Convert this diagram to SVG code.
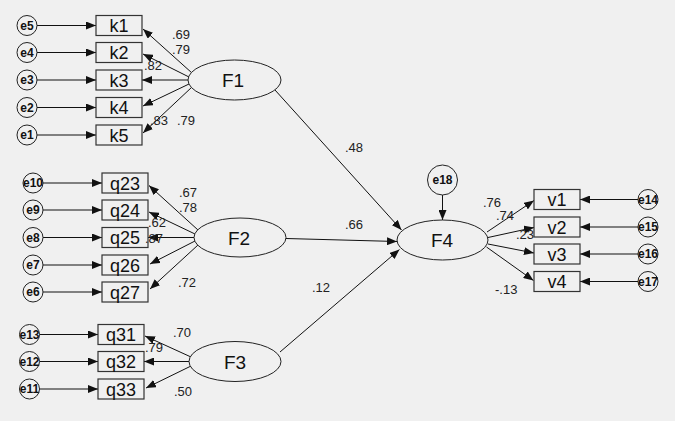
<svg xmlns="http://www.w3.org/2000/svg" width="675" height="421" viewBox="0 0 675 421">
<style>
.bg{fill:#f0f0f0}
.box{fill:#f0f0f0;stroke:#333;stroke-width:1.2}
.ell{fill:#f0f0f0;stroke:#222;stroke-width:1}
.err{fill:#f0f0f0;stroke:#222;stroke-width:1}
.ln{stroke:#111;stroke-width:1;fill:none;marker-end:url(#ah)}
.nt{font-family:"Liberation Sans",Arial,sans-serif;font-size:18px;fill:#111;text-anchor:middle}
.ft{font-family:"Liberation Sans",Arial,sans-serif;font-size:19px;fill:#111;text-anchor:middle}
.et{font-family:"Liberation Sans",Arial,sans-serif;font-size:12px;font-weight:bold;fill:#111;text-anchor:middle}
.lb{font-family:"Liberation Sans",Arial,sans-serif;font-size:13px;fill:#222}
</style>
<defs>
<marker id="ah" markerUnits="userSpaceOnUse" markerWidth="10" markerHeight="8" refX="10" refY="4" orient="auto">
<path d="M0,0 L10,4 L0,8 z" fill="#111"/>
</marker>
</defs>
<rect class="bg" x="0" y="0" width="675" height="421"/>

<g id="connectors">
<!-- error arrows F1 -->
<line class="ln" x1="37" y1="25.5" x2="96" y2="25.5"/>
<line class="ln" x1="37" y1="52.5" x2="96" y2="52.5"/>
<line class="ln" x1="37" y1="80" x2="96" y2="80"/>
<line class="ln" x1="37" y1="107.5" x2="96" y2="107.5"/>
<line class="ln" x1="37" y1="135" x2="96" y2="135"/>
<!-- F1 loadings -->
<line class="ln" x1="192" y1="73" x2="143" y2="29"/>
<line class="ln" x1="189" y1="77" x2="143" y2="54"/>
<line class="ln" x1="188" y1="80" x2="142" y2="80"/>
<line class="ln" x1="189" y1="84" x2="143" y2="106"/>
<line class="ln" x1="192" y1="87" x2="143" y2="133"/>
<!-- error arrows F2 -->
<line class="ln" x1="43" y1="183" x2="102" y2="183"/>
<line class="ln" x1="43" y1="210" x2="102" y2="210"/>
<line class="ln" x1="43" y1="237.5" x2="102" y2="237.5"/>
<line class="ln" x1="43" y1="265" x2="102" y2="265"/>
<line class="ln" x1="43" y1="292" x2="102" y2="292"/>
<!-- F2 loadings -->
<line class="ln" x1="198" y1="230" x2="149" y2="185.5"/>
<line class="ln" x1="195" y1="234" x2="149" y2="212"/>
<line class="ln" x1="194" y1="237.5" x2="148" y2="237.5"/>
<line class="ln" x1="195" y1="241" x2="150" y2="264"/>
<line class="ln" x1="198" y1="245" x2="150" y2="289"/>
<!-- error arrows F3 -->
<line class="ln" x1="39.5" y1="334.5" x2="98" y2="334.5"/>
<line class="ln" x1="39.5" y1="361.5" x2="98" y2="361.5"/>
<line class="ln" x1="39.5" y1="389" x2="98" y2="389"/>
<!-- F3 loadings -->
<line class="ln" x1="191" y1="357" x2="145" y2="336"/>
<line class="ln" x1="189" y1="361.5" x2="144" y2="361.5"/>
<line class="ln" x1="191" y1="366" x2="146" y2="388"/>
<!-- structural -->
<line class="ln" x1="275" y1="90" x2="401.5" y2="230"/>
<line class="ln" x1="286" y1="238.5" x2="397" y2="241.5"/>
<line class="ln" x1="280" y1="352" x2="399.5" y2="249.5"/>
<!-- e18 -->
<line class="ln" x1="442.5" y1="195" x2="442.5" y2="220"/>
<!-- F4 loadings -->
<line class="ln" x1="487" y1="232" x2="534" y2="200.5"/>
<line class="ln" x1="488" y1="237.5" x2="534" y2="227.5"/>
<line class="ln" x1="488" y1="244" x2="534" y2="253"/>
<line class="ln" x1="486.5" y1="247" x2="533.5" y2="280.5"/>
<!-- error arrows F4 -->
<line class="ln" x1="638" y1="199.5" x2="580" y2="199.5"/>
<line class="ln" x1="638" y1="227" x2="580" y2="227"/>
<line class="ln" x1="638" y1="254" x2="580" y2="254"/>
<line class="ln" x1="638" y1="281.5" x2="580" y2="281.5"/>
</g>

<g id="F1">
<ellipse class="ell" cx="234.5" cy="80" rx="46.5" ry="20"/>
<text class="ft" x="233" y="87">F1</text>
</g>
<g id="k1"><rect class="box" x="96" y="15.5" width="46" height="20"/><text class="nt" x="119" y="32">k1</text></g>
<g id="k2"><rect class="box" x="96" y="42.5" width="46" height="20"/><text class="nt" x="119" y="59">k2</text></g>
<g id="k3"><rect class="box" x="96" y="70" width="46" height="20"/><text class="nt" x="119" y="86.5">k3</text></g>
<g id="k4"><rect class="box" x="96" y="97.5" width="46" height="20"/><text class="nt" x="119" y="114">k4</text></g>
<g id="k5"><rect class="box" x="96" y="125" width="46" height="20"/><text class="nt" x="119" y="141.5">k5</text></g>
<g id="e5"><circle class="err" cx="27" cy="25.5" r="10"/><text class="et" x="27" y="29.5">e5</text></g>
<g id="e4"><circle class="err" cx="27" cy="52.5" r="10"/><text class="et" x="27" y="56.5">e4</text></g>
<g id="e3"><circle class="err" cx="27" cy="80" r="10"/><text class="et" x="27" y="84">e3</text></g>
<g id="e2"><circle class="err" cx="27" cy="107.5" r="10"/><text class="et" x="27" y="111.5">e2</text></g>
<g id="e1"><circle class="err" cx="27" cy="135" r="10"/><text class="et" x="27" y="139">e1</text></g>

<g id="F2">
<ellipse class="ell" cx="240" cy="237.5" rx="46" ry="19.5"/>
<text class="ft" x="239" y="244.5">F2</text>
</g>
<g id="q23"><rect class="box" x="102" y="173" width="46" height="20"/><text class="nt" x="125" y="189.5">q23</text></g>
<g id="q24"><rect class="box" x="102" y="200" width="46" height="20"/><text class="nt" x="125" y="216.5">q24</text></g>
<g id="q25"><rect class="box" x="102" y="227.5" width="46" height="20"/><text class="nt" x="125" y="244">q25</text></g>
<g id="q26"><rect class="box" x="102" y="255" width="46" height="20"/><text class="nt" x="125" y="271.5">q26</text></g>
<g id="q27"><rect class="box" x="102" y="282" width="46" height="20"/><text class="nt" x="125" y="298.5">q27</text></g>
<g id="e10"><circle class="err" cx="33" cy="183" r="10"/><text class="et" x="33" y="187">e10</text></g>
<g id="e9"><circle class="err" cx="33" cy="210" r="10"/><text class="et" x="33" y="214">e9</text></g>
<g id="e8"><circle class="err" cx="33" cy="237.5" r="10"/><text class="et" x="33" y="241.5">e8</text></g>
<g id="e7"><circle class="err" cx="33" cy="265" r="10"/><text class="et" x="33" y="269">e7</text></g>
<g id="e6"><circle class="err" cx="33" cy="292" r="10"/><text class="et" x="33" y="296">e6</text></g>

<g id="F3">
<ellipse class="ell" cx="235" cy="361.5" rx="46" ry="20"/>
<text class="ft" x="235" y="368.5">F3</text>
</g>
<g id="q31"><rect class="box" x="98" y="324.5" width="46" height="20"/><text class="nt" x="121" y="341">q31</text></g>
<g id="q32"><rect class="box" x="98" y="351.5" width="46" height="20"/><text class="nt" x="121" y="368">q32</text></g>
<g id="q33"><rect class="box" x="98" y="379" width="46" height="20"/><text class="nt" x="121" y="395.5">q33</text></g>
<g id="e13"><circle class="err" cx="29.5" cy="334.5" r="10"/><text class="et" x="29.5" y="338.5">e13</text></g>
<g id="e12"><circle class="err" cx="29.5" cy="361.5" r="10"/><text class="et" x="29.5" y="365.5">e12</text></g>
<g id="e11"><circle class="err" cx="29.5" cy="389" r="10"/><text class="et" x="29.5" y="393">e11</text></g>

<g id="F4">
<ellipse class="ell" cx="442.5" cy="240" rx="45.5" ry="20"/>
<text class="ft" x="442" y="247">F4</text>
</g>
<g id="e18"><circle class="err" cx="442.5" cy="180" r="15"/><text class="et" x="442.5" y="184">e18</text></g>
<g id="v1"><rect class="box" x="534" y="189.5" width="46" height="20"/><text class="nt" x="557" y="206">v1</text></g>
<g id="v2"><rect class="box" x="534" y="217" width="46" height="20"/><text class="nt" x="557" y="233.5">v2</text></g>
<g id="v3"><rect class="box" x="534" y="244" width="46" height="20"/><text class="nt" x="557" y="260.5">v3</text></g>
<g id="v4"><rect class="box" x="534" y="271.5" width="46" height="20"/><text class="nt" x="557" y="288">v4</text></g>
<g id="e14"><circle class="err" cx="648" cy="199.5" r="10"/><text class="et" x="648" y="203.5">e14</text></g>
<g id="e15"><circle class="err" cx="648" cy="227" r="10"/><text class="et" x="648" y="231">e15</text></g>
<g id="e16"><circle class="err" cx="648" cy="254" r="10"/><text class="et" x="648" y="258">e16</text></g>
<g id="e17"><circle class="err" cx="648" cy="281.5" r="10"/><text class="et" x="648" y="285.5">e17</text></g>

<g id="labels">
<text class="lb" x="172" y="39">.69</text>
<text class="lb" x="172" y="54">.79</text>
<text class="lb" x="144" y="70">.82</text>
<text class="lb" x="150" y="125">.83</text>
<text class="lb" x="177" y="125">.79</text>
<text class="lb" x="179" y="197">.67</text>
<text class="lb" x="179" y="212">.78</text>
<text class="lb" x="148" y="226.5">.62</text>
<text class="lb" x="145" y="242.5">.87</text>
<text class="lb" x="178" y="287">.72</text>
<text class="lb" x="173" y="336.5">.70</text>
<text class="lb" x="145" y="351.5">.79</text>
<text class="lb" x="174" y="396">.50</text>
<text class="lb" x="345" y="152">.48</text>
<text class="lb" x="345" y="229">.66</text>
<text class="lb" x="312" y="292">.12</text>
<text class="lb" x="483" y="207">.76</text>
<text class="lb" x="496" y="220">.74</text>
<text class="lb" x="516" y="238.5">.23</text>
<text class="lb" x="495" y="294">-.13</text>
</g>
</svg>
